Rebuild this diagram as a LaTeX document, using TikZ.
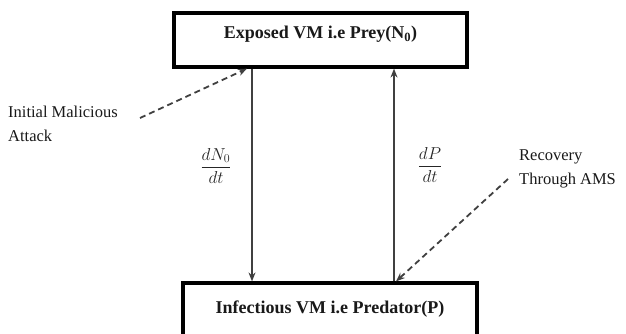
\documentclass[tikz,border=0pt]{standalone}
\usepackage{fontspec}
\setmainfont{Liberation Serif}
\usetikzlibrary{arrows.meta}

\begin{document}
\begin{tikzpicture}[
    x=1pt, y=-1pt, every node/.style={font=\fontsize{16.5}{24}\selectfont, text=black!90},
    boxNode/.style={rectangle, draw=black, line width=3.2pt, fill=white, minimum width=293pt, minimum height=54pt, font=\fontsize{18}{20}\selectfont\bfseries},
    flow/.style={draw=black!75, line width=1.2pt, -{Stealth[length=9pt, width=7pt]}},
    attackEdge/.style={draw=black!75, line width=1.8pt, dash pattern=on 6pt off 4pt, -{Stealth[length=9pt, width=7pt]}},
    rateLabel/.style={font=\fontsize{17}{20}\selectfont, text=black!85},
    sideLabel/.style={align=left, anchor=north west, inner sep=0pt}
]
    \useasboundingbox (0,0) rectangle (626,334);

    \node[boxNode, text depth=15pt] (prey) at (320.5,40) {Exposed VM i.e Prey(N\textsubscript{0})};
    \node[boxNode, minimum width=294pt, minimum height=53pt] (infect) at (330,309.5) {Infectious VM i.e Predator(P)};

    \coordinate (lx) at (252,0);
    \coordinate (rx) at (394,0);
    \draw[flow] (prey.south -| lx) -- (infect.north -| lx);
    \draw[flow] (infect.north -| rx) -- (prey.south -| rx);

    \node[rateLabel] (dn) at (216,166) {$\displaystyle\frac{dN_0}{dt}$};
    \node[rateLabel] (dp) at (430,165) {$\displaystyle\frac{dP}{dt}$};

    \node[sideLabel] (attack) at (8,106) {Initial Malicious\\Attack};
    \node[sideLabel] (recover) at (519,149) {Recovery\\Through AMS};

    \coordinate (atk) at (140,118);
    \coordinate (rec) at (508,179);
    \draw[attackEdge] (atk) -- (prey.south -| 247,0);
    \draw[attackEdge] (rec) -- (infect.north -| 396,0);
\end{tikzpicture}
\end{document}
